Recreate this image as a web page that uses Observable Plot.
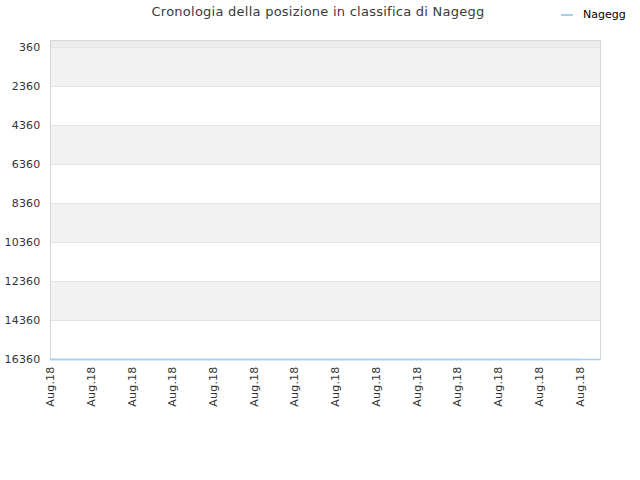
<!DOCTYPE html>
<html>
<head>
<meta charset="utf-8">
<script src="https://cdn.jsdelivr.net/npm/d3@7"></script>
<script src="https://cdn.jsdelivr.net/npm/@observablehq/plot@0.6"></script>
<style>
  html, body { margin: 0; padding: 0; background: #fff; }
  #wrap { position: relative; width: 640px; height: 480px; font-family: "DejaVu Sans", sans-serif; }
  #title { position: absolute; top: 4px; left: 0; width: 636px; text-align: center; font-size: 13px; color: #3a3a3a; letter-spacing: 0.25px; }
  #legend { position: absolute; top: 8px; left: 561px; font-size: 11px; color: #000; display: flex; align-items: center; }
  #legend .sw { display: inline-block; width: 12px; height: 2px; background: #a6cfee; margin-right: 10px; }
  svg { position: absolute; left: 0; top: 0; }
</style>
</head>
<body>
<div id="wrap">
  <div id="title">Cronologia della posizione in classifica di Nagegg</div>
  <div id="legend"><span class="sw"></span><span>Nagegg</span></div>
</div>
<script>
const seriesName = "Nagegg";
const dateLabels = ["Aug.18","Aug.18","Aug.18","Aug.18","Aug.18","Aug.18","Aug.18","Aug.18","Aug.18","Aug.18","Aug.18","Aug.18","Aug.18","Aug.18"];
const ranks = [16360,16360,16360,16360,16360,16360,16360,16360,16360,16360,16360,16360,16360,16360];
const yTicks = [360, 2360, 4360, 6360, 8360, 10360, 12360, 14360, 16360];
const yDomain = [0, 16360];

const idx = dateLabels.map((d, i) => i);
const points = ranks.map((r, i) => ({x: i, rank: r}));
const bands = yTicks.filter((t, i) => i % 2 === 0 && i < yTicks.length - 1).map(t => ({y1: t, y2: t + 2000}));
const topStrip = [{y1: yDomain[0], y2: yTicks[0]}];

const blue = "#a6cfee";

const chart = Plot.plot({
  width: 640,
  height: 480,
  marginLeft: 50,
  marginRight: 40,
  marginTop: 40,
  marginBottom: 121,
  style: {fontFamily: "DejaVu Sans, sans-serif", fontSize: "11px", color: "#333", background: "transparent", letterSpacing: "0.2px"},
  x: {domain: [0, 13.5], axis: null},
  y: {domain: yDomain, reverse: true, axis: null},
  marks: [
    Plot.rectY(topStrip, {x1: 0, x2: 13.5, y1: "y1", y2: "y2", fill: "#ececec"}),
    Plot.rectY(bands, {x1: 0, x2: 13.5, y1: "y1", y2: "y2", fill: "#f2f2f2"}),
    Plot.gridY(yTicks, {stroke: "#e3e3e3", strokeOpacity: 1}),
    Plot.frame({anchor: "left", stroke: "#d6d6d6"}),
    Plot.frame({anchor: "top", stroke: "#d6d6d6"}),
    Plot.frame({anchor: "right", stroke: "#d6d6d6"}),
    Plot.axisY(yTicks, {tickSize: 0, tickPadding: 10, label: null, tickFormat: d => String(d), fill: "#333"}),
    Plot.axisX(idx, {tickSize: 0, tickPadding: 7, tickRotate: -90, label: null, tickFormat: i => dateLabels[i], fill: "#333"}),
    Plot.ruleY([ranks[ranks.length - 1]], {stroke: blue, strokeWidth: 1.5}),
    Plot.line(points, {x: "x", y: "rank", stroke: blue, strokeWidth: 1.5})
  ]
});
document.getElementById("wrap").prepend(chart);
</script>
</body>
</html>
